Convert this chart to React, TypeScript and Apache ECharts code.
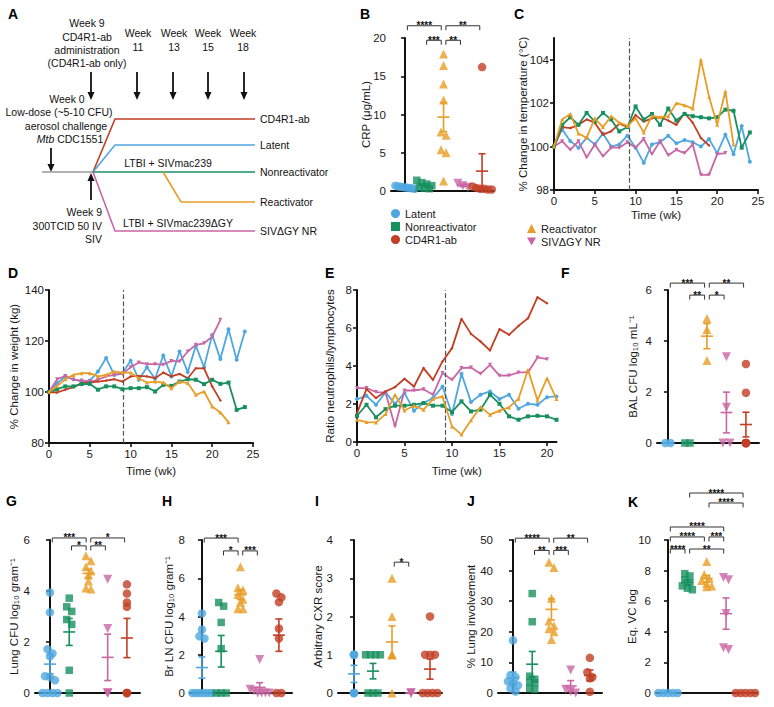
import React, { useEffect, useRef } from 'react';
import * as echarts from 'echarts';

const FONT = '"Liberation Sans", Arial, Helvetica, sans-serif';
const GROUPS = ['Latent', 'Nonreactivator', 'Reactivator', 'SIVΔGY NR', 'CD4R1-ab'];
const COLORS = ['#4FA7E0', '#17905F', '#E89D27', '#C966A5', '#C23E24'];
const DOWN_TRI = 'path://M0,0L10,0L5,9Z';
const SYMBOLS = ['circle', 'rect', 'triangle', DOWN_TRI, 'circle'];
const LINE_SYMBOLS = ['circle', 'rect', 'triangle', DOWN_TRI, 'diamond'];

// ---- Panel C: % change in temperature (weekly, from week 0) ----
const tempLatent = [100, 100.8, 100.25, 99.95, 100.4, 100.1, 100.6, 100, 100.1, 100.5, 99.95, 99.25, 100.1, 100.2, 100.5, 100.15, 100.3, 100.2, 100, 100.35, 99.7, 100.55, 99.65, 100.95, 99.3];
const tempNonreact = [100, 101.0, 101.35, 101.0, 101.55, 101.15, 101.55, 101.25, 100.7, 100.9, 101.85, 101.25, 101.5, 101.0, 101.75, 101.2, 101.5, 101.4, 101.35, 101.3, 101.35, 101.7, 101.65, 99.95, 100.65];
const tempReact = [100, 101.25, 101.5, 100.6, 100.4, 101.3, 100.9, 101.4, 101.1, 100.95, 101.3, 100.65, 101.4, 101.35, 101.4, 102.0, 101.9, 101.75, 104.0, 102.3, 101.0, 102.55, 100.1];
const tempSIV = [100, 100.25, 99.85, 100.25, 99.5, 100.1, 99.55, 99.95, 99.95, 100.2, 99.95, 100.35, 99.65, 100.25, 99.6, 99.85, 99.7, 100.1, 98.7, 98.7, 99.65, 99.7];
const tempCD4 = [100, 100.9, 100.85, 101.0, 101.25, 101.1, 100.55, 100.7, 101.05, 100.9, 101.45, 101.15, 101.3, 101.35, 101.2, 101.0, 101.55, 101.1, 100.4, 100.05];

// ---- Panel D: % change in weight ----
const weightLatent = [100, 103.5, 106.1, 105.0, 104.1, 104.5, 108.0, 113.3, 106.7, 107.4, 112.3, 104.8, 109.7, 105.2, 114.3, 106.1, 115.9, 107.8, 118.1, 109.7, 122.4, 112.9, 124.6, 112.6, 123.7];
const weightNonreact = [100, 101.1, 102.2, 102.2, 103.1, 103.2, 100.9, 102.2, 102.2, 101.1, 101.5, 101.5, 101.9, 100.2, 102.8, 102.4, 104.1, 105.0, 104.8, 103.1, 104.8, 103.2, 103.7, 93.0, 94.1];
const weightReact = [100, 102.4, 105.0, 106.7, 107.4, 107.4, 106.1, 106.7, 108.0, 107.6, 107.6, 105.4, 103.7, 104.1, 103.7, 101.5, 104.1, 103.5, 98.9, 100.2, 94.3, 92.0, 88.1];
const weightSIV = [100, 105.0, 106.3, 104.8, 104.5, 104.1, 104.8, 106.1, 106.7, 107.1, 109.7, 111.6, 110.9, 110.9, 110.7, 112.2, 112.0, 115.9, 118.5, 119.1, 121.7, 128.3];
const weightCD4 = [100, 99.8, 100.9, 101.9, 103.5, 103.7, 104.1, 104.5, 105.0, 104.1, 106.1, 106.3, 106.1, 105.4, 107.6, 106.1, 107.1, 105.4, 109.3, 109.3, 102.2, 96.7];

// ---- Panel E: ratio neutrophils / lymphocytes ----
const ratioLatent = [2.26, 2.43, 1.96, 2.61, 2.01, 2.57, 1.65, 2.05, 2.31, 2.92, 1.47, 3.59, 2.1, 2.49, 2.66, 2.26, 2.49, 1.75, 2.01, 1.96, 2.36, 2.4];
const ratioNonreact = [1.38, 1.96, 1.3, 1.73, 1.91, 1.91, 1.96, 2.05, 1.91, 1.91, 1.58, 2.14, 1.61, 1.7, 2.49, 2.01, 1.35, 1.17, 1.35, 1.38, 1.35, 1.17];
const ratioReact = [1.17, 1.05, 1.03, 1.47, 2.49, 1.66, 1.91, 1.7, 2.26, 2.4, 0.82, 0.39, 1.14, 1.84, 1.44, 1.65, 1.82, 2.28, 3.8, 2.19, 3.36, 2.26];
const ratioSIV = [2.84, 2.84, 2.63, 2.61, 0.82, 2.71, 2.71, 2.78, 2.49, 3.63, 3.27, 3.89, 3.92, 3.59, 4.06, 3.49, 3.5, 3.66, 3.66, 4.45, 4.36];
const ratioCD4 = [1.52, 2.78, 2.31, 2.66, 2.89, 3.33, 2.92, 3.89, 3.27, 4.24, 4.94, 6.48, 5.69, 5.29, 4.82, 5.94, 5.64, 6.11, 6.51, 7.62, 7.3];

// ---- Scatter panels (group order: Latent, Nonreactivator, Reactivator, SIVΔGY NR, CD4R1-ab) ----
const crpLatent = [0.7, 0.6, 0.55, 0.5, 0.45, 0.4, 0.35, 0.3];
const crpNonreact = [1.4, 1.1, 0.9, 0.7, 0.5, 0.35, 0.3];
const crpReact = [17.9, 16.4, 14.0, 11.9, 7.7, 7.3, 5.4, 5.0, 1.3];
const crpSIV = [1.0, 0.7, 0.5];
const crpCD4 = [16.2, 0.6, 0.4, 0.3, 0.3, 0.2, 0.2];

const balLatent = [0, 0];
const balNonreact = [0, 0];
const balReact = [4.88, 4.45, 3.24];
const balSIV = [3.38, 1.4, 0, 0];
const balCD4 = [3.1, 1.97, 0, 0, 0, 0, 0];

const lungLatent = [3.94, 3.16, 1.72, 1.55, 1.44, 0.66, 0.62, 0.5, 0, 0, 0, 0];
const lungNonreact = [3.72, 3.38, 3.2, 2.88, 2.69, 0.89, 0];
const lungReact = [5.38, 5.19, 4.95, 4.78, 4.63, 4.39, 4.12, 4.08];
const lungSIV = [4.46, 2.53, 0, 0, 0];
const lungCD4 = [4.26, 3.9, 3.55, 3.38, 0, 0, 0];

const brLatent = [4.16, 3.32, 2.97, 2.85, 0, 0, 0, 0, 0, 0];
const brNonreact = [4.73, 4.54, 3.69, 2.32, 0, 0, 0];
const brReact = [6.6, 5.5, 5.4, 5.15, 4.9, 4.75, 4.4, 4.4];
const brSIV = [1.75, 0.2, 0.1, 0, 0, 0, 0];
const brCD4 = [5.2, 5.0, 4.75, 3.37, 2.85, 0, 0];

const cxrLatent = [1, 1, 1, 0, 0, 0];
const cxrNonreact = [1, 1, 1, 1, 0, 0, 0];
const cxrReact = [3, 2, 1, 1, 1, 0];
const cxrSIV = [0, 0, 0];
const cxrCD4 = [2, 1, 1, 1, 0, 0, 0, 0];

const involvLatent = [17.2, 5.8, 5.2, 3.8, 3.2, 2.5, 1.5, 0.5];
const involvNonreact = [32.5, 23.3, 5.5, 4.5, 3.5, 3.3, 1.5, 1.2];
const involvReact = [42.7, 41.0, 31.0, 23.5, 22.0, 21.0, 20.0, 17.5];
const involvSIV = [7.5, 1.2, 0.5, 0];
const involvCD4 = [11.5, 6.8, 5.2, 4.8, 0.4];

const vcLatent = [0, 0, 0, 0, 0];
const vcNonreact = [7.8, 7.65, 7.4, 7.2, 7.0, 6.85, 6.75];
const vcReact = [8.6, 7.75, 7.5, 7.35, 7.15, 7.0, 6.95];
const vcSIV = [7.55, 7.4, 5.2, 2.95, 2.85];
const vcCD4 = [0, 0, 0, 0, 0];

// significance brackets: [fromGroup, toGroup, level]
const bracketsB = [[0, 2, 21.6], [2, 4, 21.6], [1, 2, 19.7], [2, 3, 19.7]];
const starsB = ['****', '**', '***', '**'];
const bracketsF = [[0, 2, 6.27], [2, 4, 6.27], [1, 2, 5.8], [2, 3, 5.8]];
const starsF = ['***', '**', '**', '*'];
const bracketsG = [[0, 2, 6.08], [2, 4, 6.08], [1, 2, 5.77], [2, 3, 5.77]];
const starsG = ['***', '*', '*', '**'];
const bracketsH = [[0, 2, 8.1], [1, 2, 7.43], [2, 3, 7.43]];
const starsH = ['***', '*', '***'];
const bracketsI = [[2, 3, 3.42]];
const starsI = ['*'];
const bracketsJ = [[0, 2, 50.6], [2, 4, 50.6], [1, 2, 46.6], [2, 3, 46.6]];
const starsJ = ['****', '**', '**', '***'];
const bracketsK = [[1, 4, 13.07], [2, 4, 12.42], [0, 3, 10.85], [0, 2, 10.2], [2, 3, 10.2], [0, 1, 9.41], [1, 3, 9.41]];
const starsK = ['****', '****', '****', '****', '***', '****', '**'];

function beeswarm(values: number[], g: number, range: number, spread: number): number[][] {
  const tol = (range * 6) / 153;
  const sorted = values.slice().sort((a, b) => b - a);
  const out: number[][] = [];
  let i = 0;
  while (i < sorted.length) {
    let j = i;
    while (j + 1 < sorted.length && sorted[i] - sorted[j + 1] < tol) j++;
    const k = j - i + 1;
    const step = k > 1 ? Math.min(0.26, 1.0 / (k - 1)) * spread : 0;
    for (let m = 0; m < k; m++) out.push([g + (m - (k - 1) / 2) * step, sorted[i + m]]);
    i = j + 1;
  }
  return out;
}

function stats(v: number[]): number[] {
  const n = v.length;
  const m = v.reduce((a, b) => a + b, 0) / n;
  const sd = n > 1 ? Math.sqrt(v.reduce((a, b) => a + (b - m) * (b - m), 0) / (n - 1)) : 0;
  return [m, sd / Math.sqrt(n)];
}

const axisText = { fontSize: 11.5, color: '#1a1a1a', fontFamily: FONT };

function yAxisDef(gi: number, min: number, max: number, interval: number, name: string, nameGap: number, extra: any = {}) {
  return {
    type: 'value', gridIndex: gi, min, max, interval, name, nameLocation: 'middle', nameGap, nameMoveOverlap: false,
    nameTextStyle: { ...axisText },
    axisLine: { show: true, lineStyle: { color: '#111', width: 2 } },
    axisTick: { show: true, length: 4, lineStyle: { color: '#111', width: 1.6 } },
    axisLabel: { ...axisText, margin: 5 },
    splitLine: { show: false },
    ...extra,
  };
}

type ScatterPanel = {
  grid: any; xMin: number; xMax: number; yMax: number; interval: number; name: string; nameGap: number;
  groups: number[][]; brackets: number[][]; stars: string[]; spread: number[];
};

const scatterPanels: ScatterPanel[] = [
  { grid: { left: 391, top: 38, width: 103, height: 153 }, xMin: -0.73, xMax: 4.62, yMax: 20, interval: 5, name: 'CRP (μg/mL)', nameGap: 19,
    groups: [crpLatent, crpNonreact, crpReact, crpSIV, crpCD4], brackets: bracketsB, stars: starsB, spread: [1, 1, 1, 1, 1] },
  { grid: { left: 657, top: 290, width: 102, height: 153 }, xMin: -0.56, xMax: 4.67, yMax: 6, interval: 2, name: 'BAL CFU log₁₀ mL⁻¹', nameGap: 18,
    groups: [balLatent, balNonreact, balReact, balSIV, balCD4], brackets: bracketsF, stars: starsF, spread: [1, 1, 1, 1.4, 0] },
  { grid: { left: 35, top: 540, width: 105, height: 153 }, xMin: -0.78, xMax: 4.68, yMax: 6, interval: 2, name: 'Lung CFU log₁₀ gram⁻¹', nameGap: 15,
    groups: [lungLatent, lungNonreact, lungReact, lungSIV, lungCD4], brackets: bracketsG, stars: starsG, spread: [1, 1, 1, 0, 0] },
  { grid: { left: 190, top: 540, width: 102, height: 153 }, xMin: -0.62, xMax: 4.68, yMax: 8, interval: 2, name: 'Br LN CFU log₁₀ gram⁻¹', nameGap: 15,
    groups: [brLatent, brNonreact, brReact, brSIV, brCD4], brackets: bracketsH, stars: starsH, spread: [1, 1, 1, 1, 1] },
  { grid: { left: 338, top: 540, width: 104, height: 153 }, xMin: -0.84, xMax: 4.63, yMax: 4, interval: 1, name: 'Arbitrary CXR score', nameGap: 14,
    groups: [cxrLatent, cxrNonreact, cxrReact, cxrSIV, cxrCD4], brackets: bracketsI, stars: starsI, spread: [0, 1, 0, 0, 1] },
  { grid: { left: 498, top: 540, width: 104, height: 153 }, xMin: -0.78, xMax: 4.63, yMax: 50, interval: 10, name: '% Lung involvement', nameGap: 21,
    groups: [involvLatent, involvNonreact, involvReact, involvSIV, involvCD4], brackets: bracketsJ, stars: starsJ, spread: [1, 1, 1, 1, 1] },
  { grid: { left: 656, top: 540, width: 101, height: 153 }, xMin: -0.62, xMax: 4.6, yMax: 10, interval: 2, name: 'Eq. VC log', nameGap: 18,
    groups: [vcLatent, vcNonreact, vcReact, vcSIV, vcCD4], brackets: bracketsK, stars: starsK, spread: [1, 1, 1, 1, 1] },
];

type TimePanel = {
  grid: any; xMax: number; xTicks: number[]; yMin: number; yMax: number; yInt: number; yTicks: number[];
  name: string; nameGap: number; xNameGap: number; arrays: number[][]; dash: number;
};

const timePanels: TimePanel[] = [
  { grid: { left: 554, top: 38, width: 204, height: 152 }, xMax: 25, xTicks: [0, 5, 10, 15, 20, 25], yMin: 98, yMax: 105, yInt: 2, yTicks: [98, 100, 102, 104],
    name: '% Change in temperature (°C)', nameGap: 25, xNameGap: 19, arrays: [tempLatent, tempNonreact, tempReact, tempSIV, tempCD4], dash: 9.2 },
  { grid: { left: 49, top: 290, width: 204, height: 153 }, xMax: 25, xTicks: [0, 5, 10, 15, 20, 25], yMin: 80, yMax: 140, yInt: 20, yTicks: [80, 100, 120, 140],
    name: '% Change in weight (kg)', nameGap: 29, xNameGap: 22, arrays: [weightLatent, weightNonreact, weightReact, weightSIV, weightCD4], dash: 9.05 },
  { grid: { left: 357, top: 290, width: 199.5, height: 152 }, xMax: 21, xTicks: [0, 5, 10, 15, 20], yMin: 0, yMax: 8, yInt: 2, yTicks: [0, 2, 4, 6, 8],
    name: 'Ratio neutrophils/lymphocytes', nameGap: 21, xNameGap: 23, arrays: [ratioLatent, ratioNonreact, ratioReact, ratioSIV, ratioCD4], dash: 9.25 },
];

function buildOption() {
  const grids: any[] = [];
  const xAxes: any[] = [];
  const yAxes: any[] = [];
  const series: any[] = [];

  // time panels: grid indices 0..2
  timePanels.forEach((p, gi) => {
    grids.push(p.grid);
    xAxes.push({
      type: 'value', gridIndex: gi, min: 0, max: p.xMax, interval: 5, name: 'Time (wk)', nameLocation: 'middle', nameGap: p.xNameGap, nameMoveOverlap: false,
      nameTextStyle: { ...axisText },
      axisLine: { show: true, lineStyle: { color: '#111', width: 2 } },
      axisTick: { show: true, length: 4, lineStyle: { color: '#111', width: 1.6 }, customValues: p.xTicks },
      axisLabel: { ...axisText, margin: 5, customValues: p.xTicks, formatter: (v: number) => (v % 5 === 0 ? String(v) : '') },
      splitLine: { show: false },
    });
    yAxes.push(yAxisDef(gi, p.yMin, p.yMax, p.yInt, p.name, p.nameGap, {
      axisTick: { show: true, length: 4, lineStyle: { color: '#111', width: 1.6 }, customValues: p.yTicks },
      axisLabel: { ...axisText, margin: 5, customValues: p.yTicks, formatter: (v: number) => ((v - p.yMin) % p.yInt === 0 ? String(v) : '') },
    }));
    const order = [0, 3, 4, 1, 2];
    order.forEach((g, k) => {
      series.push({
        type: 'line', name: GROUPS[g], xAxisIndex: gi, yAxisIndex: gi,
        data: p.arrays[g].map((v, i) => [i, v]),
        symbol: LINE_SYMBOLS[g], symbolSize: g === 4 ? 3 : 4, showSymbol: true,
        lineStyle: { color: COLORS[g], width: 1.8 }, itemStyle: { color: COLORS[g] },
        silent: true, z: 2 + k,
        markLine: k === 0 ? {
          silent: true, symbol: ['none', 'none'], label: { show: false },
          lineStyle: { type: 'dashed', color: '#555', width: 1.2 }, data: [{ xAxis: p.dash }],
        } : undefined,
      });
    });
  });

  // scatter panels
  scatterPanels.forEach((p, k) => {
    const gi = k + 3;
    grids.push(p.grid);
    xAxes.push({
      type: 'value', gridIndex: gi, min: p.xMin, max: p.xMax,
      axisLine: { show: true, lineStyle: { color: '#111', width: 2 } },
      axisTick: { show: false }, axisLabel: { show: false }, splitLine: { show: false },
    });
    yAxes.push(yAxisDef(gi, 0, p.yMax, p.interval, p.name, p.nameGap));
    p.groups.forEach((vals, g) => {
      series.push({
        type: 'scatter', name: GROUPS[g], xAxisIndex: gi, yAxisIndex: gi,
        data: beeswarm(vals, g, p.yMax, p.spread[g]),
        symbol: SYMBOLS[g], symbolSize: g === 1 ? 7.5 : g >= 2 && g <= 3 ? 9 : 8.5,
        itemStyle: { color: COLORS[g] }, clip: false, silent: true, z: 2,
      });
    });
    const st = p.groups.map((v) => stats(v));
    series.push({
      type: 'custom', xAxisIndex: gi, yAxisIndex: gi, clip: false, silent: true, z: 3,
      data: st.map((s, g) => [g, s[0], s[1]]),
      renderItem: (params: any, api: any) => {
        const g = api.value(0), m = api.value(1), s = api.value(2);
        const c = api.coord([g, m]);
        const t = api.coord([g, m + s]);
        const b = api.coord([g, Math.max(0, m - s)]);
        const col = COLORS[g];
        const st2 = { stroke: col, lineWidth: 1.6 };
        return {
          type: 'group',
          children: [
            { type: 'line', shape: { x1: c[0] - 6, y1: c[1], x2: c[0] + 6, y2: c[1] }, style: st2 },
            { type: 'line', shape: { x1: c[0], y1: t[1], x2: c[0], y2: b[1] }, style: st2 },
            { type: 'line', shape: { x1: c[0] - 3.5, y1: t[1], x2: c[0] + 3.5, y2: t[1] }, style: st2 },
            { type: 'line', shape: { x1: c[0] - 3.5, y1: b[1], x2: c[0] + 3.5, y2: b[1] }, style: st2 },
          ],
        };
      },
    });
    const stars = p.stars;
    series.push({
      type: 'custom', xAxisIndex: gi, yAxisIndex: gi, clip: false, silent: true, z: 4,
      data: p.brackets,
      renderItem: (params: any, api: any) => {
        const a = api.value(0), b = api.value(1), lv = api.value(2);
        const p1 = api.coord([a + 0.12, lv]);
        const p2 = api.coord([b - 0.12, lv]);
        return {
          type: 'group',
          children: [
            { type: 'polyline', shape: { points: [[p1[0], p1[1] + 4.5], [p1[0], p1[1]], [p2[0], p2[1]], [p2[0], p2[1] + 4.5]] },
              style: { stroke: '#333', lineWidth: 1, fill: null } },
            { type: 'text', x: (p1[0] + p2[0]) / 2, y: p1[1] + 5,
              style: { text: stars[params.dataIndex], fill: '#111', fontSize: 10, fontFamily: FONT, fontWeight: 'bold',
                align: 'center', verticalAlign: 'bottom', textAlign: 'center', textVerticalAlign: 'bottom' } },
          ],
        };
      },
    });
  });

  // ---- Panel A schematic and panel letters ----
  const T = (text: string, x: number, y: number, align = 'center', extra: any = {}) => ({
    type: 'text', x, y, silent: true,
    style: { text, fill: '#111', fontSize: 10.5, fontFamily: FONT, align, verticalAlign: 'middle', textAlign: align, textVerticalAlign: 'middle', ...extra },
  });
  const L = (text: string, x: number, y: number) => ({
    type: 'text', x, y, silent: true,
    style: { text, fill: '#000', fontSize: 14, fontWeight: 'bold', fontFamily: FONT, align: 'left', verticalAlign: 'middle', textAlign: 'left', textVerticalAlign: 'middle' },
  });
  const arrowDown = (x: number, y1: number, y2: number) => [
    { type: 'line', silent: true, shape: { x1: x, y1, x2: x, y2: y2 - 5 }, style: { stroke: '#111', lineWidth: 1.8 } },
    { type: 'polygon', silent: true, shape: { points: [[x - 3.5, y2 - 8], [x + 3.5, y2 - 8], [x, y2]] }, style: { fill: '#111' } },
  ];
  const arrowUp = (x: number, y1: number, y2: number) => [
    { type: 'line', silent: true, shape: { x1: x, y1, x2: x, y2: y2 + 5 }, style: { stroke: '#111', lineWidth: 1.8 } },
    { type: 'polygon', silent: true, shape: { points: [[x - 3.5, y2 + 8], [x + 3.5, y2 + 8], [x, y2]] }, style: { fill: '#111' } },
  ];
  const PL = (pts: number[][], color: string) => ({
    type: 'polyline', silent: true, shape: { points: pts }, style: { stroke: color, lineWidth: 1.6, fill: null },
  });

  const graphic: any[] = [
    L('A', 8, 14), L('B', 360, 14), L('C', 514, 14), L('D', 8, 273), L('E', 325, 273), L('F', 561, 273),
    L('G', 6, 501), L('H', 162, 501), L('I', 315, 501), L('J', 467, 501), L('K', 628, 502),
    T('Week 9', 87, 23), T('CD4R1-ab', 87, 37), T('administration', 87, 50), T('(CD4R1-ab only)', 87, 63),
    T('Week', 138, 33), T('11', 138, 47), T('Week', 174, 33), T('13', 174, 47),
    T('Week', 208, 33), T('15', 208, 47), T('Week', 243, 33), T('18', 243, 47),
    ...arrowDown(91, 72, 100), ...arrowDown(137, 72, 100), ...arrowDown(173, 72, 100), ...arrowDown(208, 72, 100), ...arrowDown(244, 72, 100),
    T('Week 0', 67, 99), T('Low-dose (~5-10 CFU)', 59, 112), T('aerosol challenge', 66, 126),
    T('{i|Mtb} CDC1551', 70, 139, 'center', { rich: { i: { fontStyle: 'italic', fontSize: 10.5, fontFamily: FONT, fill: '#111' } } }),
    ...arrowDown(51, 148, 172),
    PL([[42, 172], [93, 172]], '#9a9a9a'),
    PL([[93, 172], [115, 119], [255, 119]], COLORS[4]),
    PL([[93, 172], [115, 145], [255, 145]], COLORS[0]),
    PL([[93, 172], [255, 172]], COLORS[1]),
    PL([[163, 172], [181, 202], [255, 202]], COLORS[2]),
    PL([[93, 172], [115, 231], [255, 231]], COLORS[3]),
    T('CD4R1-ab', 260, 119, 'left'), T('Latent', 260, 145, 'left'), T('Nonreactivator', 260, 172, 'left'),
    T('Reactivator', 260, 202, 'left'), T('SIVΔGY NR', 260, 231, 'left'),
    T('LTBI + SIVmac239', 168, 163), T('LTBI + SIVmac239ΔGY', 178, 223),
    ...arrowUp(91, 200, 173),
    T('Week 9', 102, 212, 'right'), T('300TCID 50 IV', 102, 226, 'right'), T('SIV', 102, 239, 'right'),
  ];

  const legendBase = {
    orient: 'vertical', itemWidth: 9, itemHeight: 9, itemGap: 2,
    textStyle: { fontSize: 11, color: '#1a1a1a', fontFamily: FONT }, selectedMode: false,
  };

  return {
    animation: false,
    backgroundColor: '#ffffff',
    textStyle: { fontFamily: FONT },
    grid: grids,
    xAxis: xAxes,
    yAxis: yAxes,
    series,
    legend: [
      { ...legendBase, left: 386, top: 203,
        data: [
          { name: GROUPS[0], icon: 'circle', itemStyle: { color: COLORS[0] } },
          { name: GROUPS[1], icon: 'rect', itemStyle: { color: COLORS[1] } },
          { name: GROUPS[4], icon: 'circle', itemStyle: { color: COLORS[4] } },
        ] },
      { ...legendBase, left: 522, top: 218,
        data: [
          { name: GROUPS[2], icon: 'triangle', itemStyle: { color: COLORS[2] } },
          { name: GROUPS[3], icon: DOWN_TRI, itemStyle: { color: COLORS[3] } },
        ] },
    ],
    graphic,
  };
}

export default function App() {
  const ref = useRef<HTMLDivElement>(null);
  useEffect(() => {
    if (!ref.current) return;
    const chart = echarts.init(ref.current, undefined, { renderer: 'svg' });
    chart.setOption(buildOption() as any);
    return () => chart.dispose();
  }, []);
  return (
    <div
      ref={ref}
      style={{ position: 'absolute', left: 0, top: 0, width: 774, height: 707, background: '#fff' }}
    />
  );
}
